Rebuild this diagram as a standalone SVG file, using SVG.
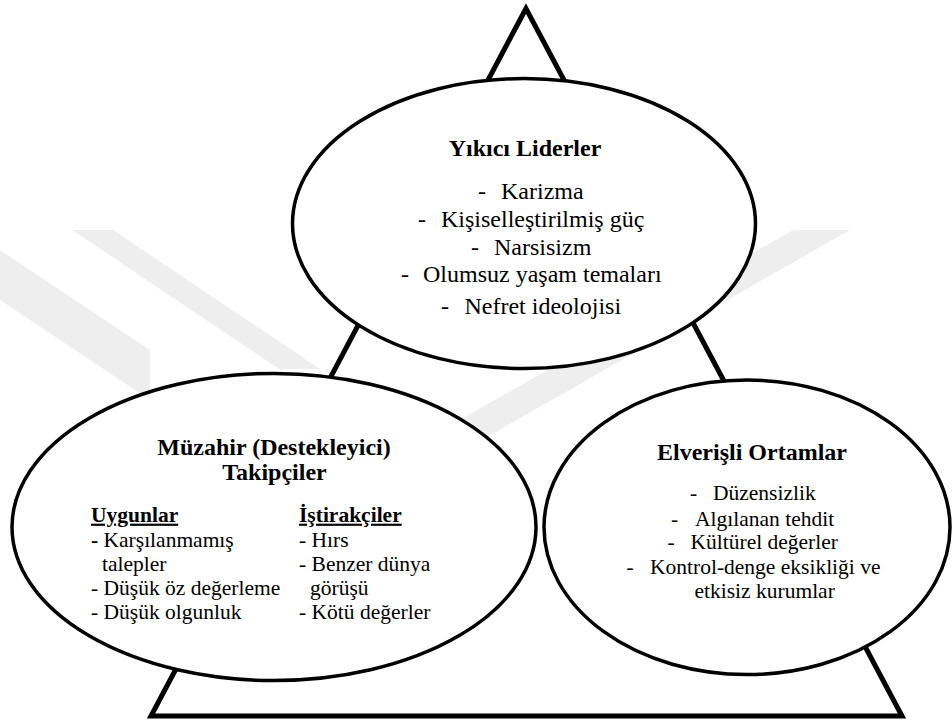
<svg xmlns="http://www.w3.org/2000/svg" width="952" height="723" viewBox="0 0 952 723">
<style>
  .wm { fill: #eeeeee; stroke: none; }
  .tri { fill: none; stroke: #000; stroke-width: 5; stroke-linejoin: miter; stroke-miterlimit: 10; }
  .node { fill: #fff; stroke: #000; stroke-width: 3.5; }
  text { fill: #000; }
  .title { font-size: 24px; font-weight: bold; text-anchor: middle; }
  .big { font-size: 24px; }
  .small { font-size: 21.5px; }
  .head { font-size: 21.5px; font-weight: bold; text-decoration: underline; }
</style>
<rect x="0" y="0" width="952" height="723" fill="#fff"/>
<g id="watermark">
  <polygon class="wm" points="0,250 150,350 150,400 0,300"/>
  <polygon class="wm" points="72,230 113,230 320,369 279,369"/>
  <polygon class="wm" points="793,230 850,230 429,470 372,470"/>
</g>
<g id="connectors">
  <polygon class="tri" points="526,8.5 151,716 902,716"/>
</g>
<g font-family="Liberation Serif, Times New Roman, serif">
<g id="node-liderler">
  <ellipse class="node" cx="524" cy="223.6" rx="231.5" ry="145"/>
  <text class="title" x="525" y="156">Yıkıcı Liderler</text>
  <text class="big" x="478" y="199">-</text><text class="big" x="501" y="199">Karizma</text>
  <text class="big" x="418" y="227">-</text><text class="big" x="441" y="227">Kişiselleştirilmiş güç</text>
  <text class="big" x="471" y="255">-</text><text class="big" x="494" y="255">Narsisizm</text>
  <text class="big" x="401" y="282">-</text><text class="big" x="423" y="282">Olumsuz yaşam temaları</text>
  <text class="big" x="441" y="314">-</text><text class="big" x="464.5" y="314">Nefret ideolojisi</text>
</g>
<g id="node-takipciler">
  <ellipse class="node" cx="274" cy="527" rx="262" ry="153.6"/>
  <text class="title" x="274" y="455">Müzahir (Destekleyici)</text>
  <text class="title" x="274.5" y="480">Takipçiler</text>
  <text class="head" x="91" y="521.7">Uygunlar</text>
  <text class="small" x="91" y="546.7"><tspan font-weight="bold">-</tspan> Karşılanmamış</text>
  <text class="small" x="102" y="570.7">talepler</text>
  <text class="small" x="91" y="595">- Düşük öz değerleme</text>
  <text class="small" x="91" y="619.3">- Düşük olgunluk</text>
  <text class="head" x="299" y="521.7">İştirakçiler</text>
  <text class="small" x="299" y="546.7">- Hırs</text>
  <text class="small" x="299" y="570.7">- Benzer dünya</text>
  <text class="small" x="310" y="595">görüşü</text>
  <text class="small" x="299" y="619.3">- Kötü değerler</text>
</g>
<g id="node-ortamlar">
  <ellipse class="node" cx="747" cy="527.3" rx="203" ry="147.3"/>
  <text class="title" x="752" y="460">Elverişli Ortamlar</text>
  <text class="small" x="690" y="500">-</text><text class="small" x="713" y="500">Düzensizlik</text>
  <text class="small" x="671" y="525.7">-</text><text class="small" x="695" y="525.7">Algılanan tehdit</text>
  <text class="small" x="667.5" y="549">-</text><text class="small" x="690.5" y="549">Kültürel değerler</text>
  <text class="small" x="626.5" y="574">-</text><text class="small" x="650" y="574">Kontrol-denge eksikliği ve</text>
  <text class="small" x="694.5" y="598.3">etkisiz kurumlar</text>
</g>
</g>
</svg>
